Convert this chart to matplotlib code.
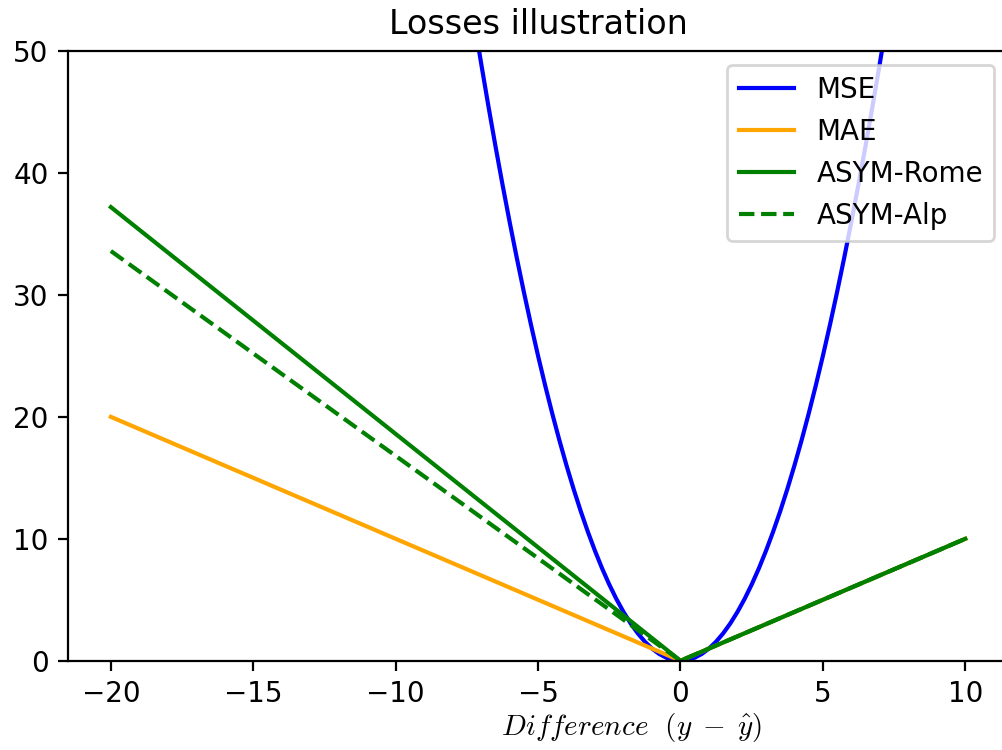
import numpy as np
import matplotlib.pyplot as plt

OUTPUT_PATH = "out.png"

plt.rcParams["mathtext.fontset"] = "cm"

# ---------- data ----------
mse_x = np.arange(-7.25, 7.26, 0.25)
mse_y = [52.5625, 49.0, 45.5625, 42.25, 39.0625, 36.0, 33.0625, 30.25,
         27.5625, 25.0, 22.5625, 20.25, 18.0625, 16.0, 14.0625, 12.25,
         10.5625, 9.0, 7.5625, 6.25, 5.0625, 4.0, 3.0625, 2.25, 1.5625,
         1.0, 0.5625, 0.25, 0.0625, 0.0,
         0.0625, 0.25, 0.5625, 1.0, 1.5625, 2.25, 3.0625, 4.0, 5.0625,
         6.25, 7.5625, 9.0, 10.5625, 12.25, 14.0625, 16.0, 18.0625, 20.25,
         22.5625, 25.0, 27.5625, 30.25, 33.0625, 36.0, 39.0625, 42.25,
         45.5625, 49.0, 52.5625]

lin_x = [-20, 0, 10]
mae_y = [20.0, 0.0, 10.0]
rome_y = [37.2, 0.0, 10.0]
alp_y = [33.6, 0.0, 10.0]

# ---------- plot ----------
# axes runs slightly past the right edge, as in the (cropped) original
fig = plt.figure(figsize=(5.01, 3.75), dpi=200)
ax = fig.add_axes([0.068, 0.119, 0.938, 0.813])

ax.plot(mse_x, mse_y, color="blue", label="MSE")
ax.plot(lin_x, mae_y, color="orange", label="MAE")
ax.plot(lin_x, rome_y, color="green", label="ASYM-Rome")
ax.plot(lin_x, alp_y, color="green", linestyle="--", label="ASYM-Alp")

ax.set_xlim(-21.5, 11.5)
ax.set_ylim(0, 50)
ax.set_title("Losses illustration")
ax.set_xlabel(r"$Difference\ \ (y\;-\;\hat{y})$", fontsize=10.5)
ax.xaxis.set_label_coords(0.599, -0.082)
ax.legend(loc="upper right")

fig.savefig(OUTPUT_PATH, dpi=200)
plt.close()
print("Saved:", OUTPUT_PATH)
